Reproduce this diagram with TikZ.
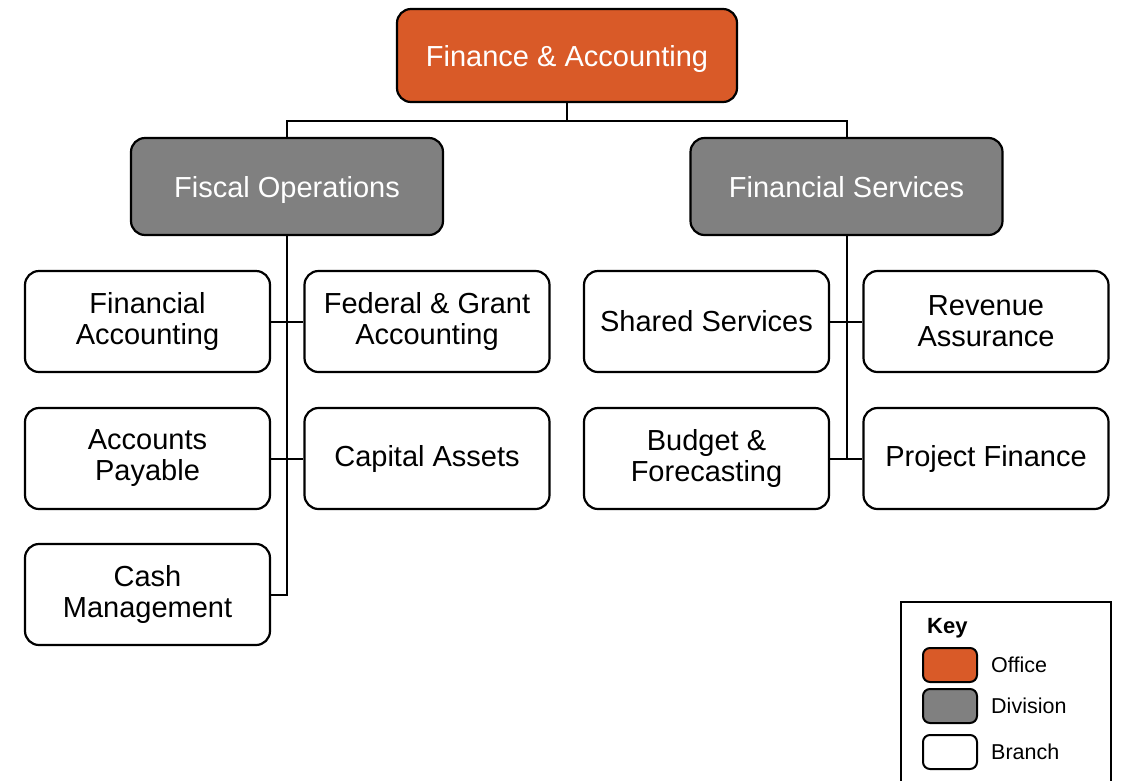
\documentclass[tikz,border=0pt]{standalone}
\usepackage{fontspec}
\setmainfont{Liberation Sans}
\usetikzlibrary{positioning}
\definecolor{officeorange}{HTML}{D95A28}
\definecolor{divisiongray}{HTML}{808080}
\begin{document}
\begin{tikzpicture}[x=1pt,y=-1pt]
    \tikzset{box/.style = {draw,line width=2.2pt,rounded corners=14pt,align=center,inner sep=0pt}}
    \tikzset{office/.style = {box,fill=officeorange,text=white,minimum width=340pt,minimum height=93pt,text height=21pt,text depth=0pt,font=\fontsize{29}{31}\selectfont}}
    \tikzset{division/.style = {box,fill=divisiongray,text=white,minimum width=312pt,minimum height=97pt,text height=21pt,text depth=0pt,font=\fontsize{29}{31}\selectfont}}
    \tikzset{branch/.style = {box,fill=white,minimum width=245pt,minimum height=101pt,font=\fontsize{29}{31}\selectfont}}
    \tikzset{swatch/.style = {draw,line width=2pt,rounded corners=7pt,minimum width=54pt,minimum height=34pt,inner sep=0pt}}
    \tikzset{keytext/.style = {anchor=west,inner sep=0pt,font=\fontsize{21.5}{24}\selectfont}}
    \tikzset{link/.style = {line width=2pt}}
    \useasboundingbox (0,0) rectangle (1122,780);
    % top level
    \node[office] (fa) at (567,55.5) {Finance \& Accounting};
    \node[division] (fo) at (287,186.5) {Fiscal Operations};
    \node[division] (fs) at (846.5,186.5) {Financial Services};
    % fiscal operations branches
    \node[branch] (facc) at (147.5,321.5) {Financial\\Accounting};
    \node[branch] (fga) at (427,321.5) {Federal \& Grant\\Accounting};
    \node[branch] (ap) at (147.5,458.5) {Accounts\\Payable};
    \node[branch] (ca) at (427,458.5) {Capital Assets};
    \node[branch] (cm) at (147.5,594.5) {Cash\\Management};
    % financial services branches
    \node[branch] (ss) at (706.5,321.5) {Shared Services};
    \node[branch] (ra) at (986,321.5) {Revenue\\Assurance};
    \node[branch] (bf) at (706.5,458.5) {Budget \&\\Forecasting};
    \node[branch] (pf) at (986,458.5) {Project Finance};
    % connectors
    \draw[link] (fa.south) -- ++(0,18) -| (fo.north);
    \draw[link] (fa.south) -- ++(0,18) -| (fs.north);
    \draw[link] (fo.south) |- (cm.east);
    \draw[link] (facc.east) -- (fga.west);
    \draw[link] (ap.east) -- (ca.west);
    \draw[link] (fs.south) |- (bf.east);
    \draw[link] (ss.east) -- (ra.west);
    \draw[link] (bf.east) -- (pf.west);
    % key
    \draw[line width=1.5pt] (901,795) -- (901,602) -- (1111,602) -- (1111,795);
    \node[keytext,font=\fontsize{22}{24}\selectfont\bfseries] (key) at (927,628) {Key};
    \node[swatch,fill=officeorange] (kof) at (950,665) {};
    \node[swatch,fill=divisiongray] (kdv) at (950,706) {};
    \node[swatch,fill=white] (kbr) at (950,752) {};
    \node[keytext,right=13pt of kof] {Office};
    \node[keytext,right=13pt of kdv] {Division};
    \node[keytext,right=13pt of kbr] {Branch};
\end{tikzpicture}
\end{document}
